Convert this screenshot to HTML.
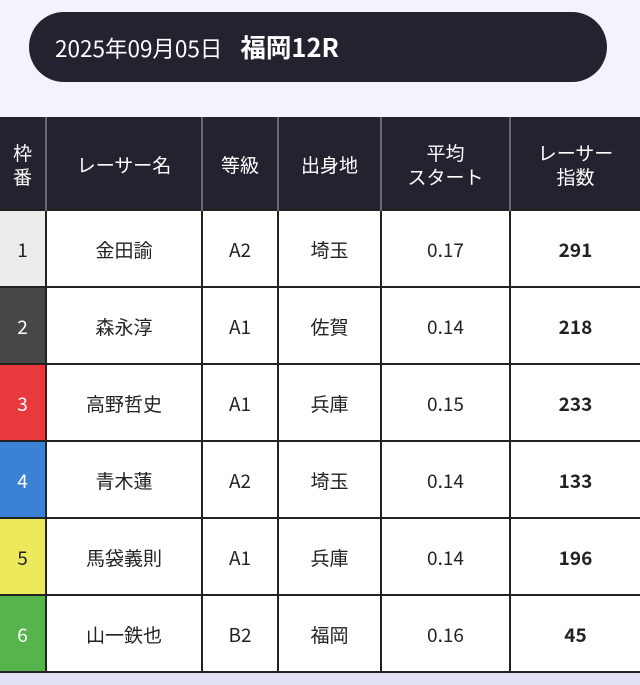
<!DOCTYPE html>
<html><head><meta charset="utf-8"><style>
*{margin:0;padding:0;box-sizing:border-box}
body{width:640px;height:685px;background:#f3f4fb;position:relative;overflow:hidden;font-family:"Noto Sans CJK JP","Liberation Sans",sans-serif}
.pill{position:absolute;left:29px;top:12px;width:578px;height:70px;background:#24222f;border-radius:35px;color:#fff;font-size:22.5px;line-height:70px;padding-left:26px}
.pill b{font-size:25.5px;margin-left:18px}
.bot{position:absolute;left:0;top:673px;width:640px;height:12px;background:#e1e1f6}
table{position:absolute;left:0;top:117px;width:640px;border-collapse:collapse;table-layout:fixed}
th{background:#24222f;color:#fff;font-weight:normal;font-size:19px;height:93px;border-left:2px solid #6a6870;line-height:24px;padding-top:4px}
th:first-child{border-left:none}
td{background:#fff;height:77px;border:2px solid #222;text-align:center;font-size:19px;color:#222;padding-top:2px}
td:first-child{border-left:none}
td:last-child{border-right:none;font-weight:bold}
</style></head><body>
<div class="pill">2025年09月05日<b>福岡12R</b></div>
<table>
<colgroup><col style="width:46px"><col style="width:156px"><col style="width:76px"><col style="width:103px"><col style="width:129px"><col style="width:130px"></colgroup>
<tr><th>枠<br>番</th><th>レーサー名</th><th>等級</th><th>出身地</th><th>平均<br>スタート</th><th>レーサー<br>指数</th></tr>
<tr><td style="background:#ececec">1</td><td>金田諭</td><td>A2</td><td>埼玉</td><td>0.17</td><td>291</td></tr>
<tr><td style="background:#474747;color:#fff">2</td><td>森永淳</td><td>A1</td><td>佐賀</td><td>0.14</td><td>218</td></tr>
<tr><td style="background:#e9393c;color:#fff">3</td><td>高野哲史</td><td>A1</td><td>兵庫</td><td>0.15</td><td>233</td></tr>
<tr><td style="background:#3c82d4;color:#fff">4</td><td>青木蓮</td><td>A2</td><td>埼玉</td><td>0.14</td><td>133</td></tr>
<tr><td style="background:#ecea5c">5</td><td>馬袋義則</td><td>A1</td><td>兵庫</td><td>0.14</td><td>196</td></tr>
<tr><td style="background:#55b54c;color:#fff">6</td><td>山一鉄也</td><td>B2</td><td>福岡</td><td>0.16</td><td>45</td></tr>
</table>
<div class="bot"></div>
</body></html>
